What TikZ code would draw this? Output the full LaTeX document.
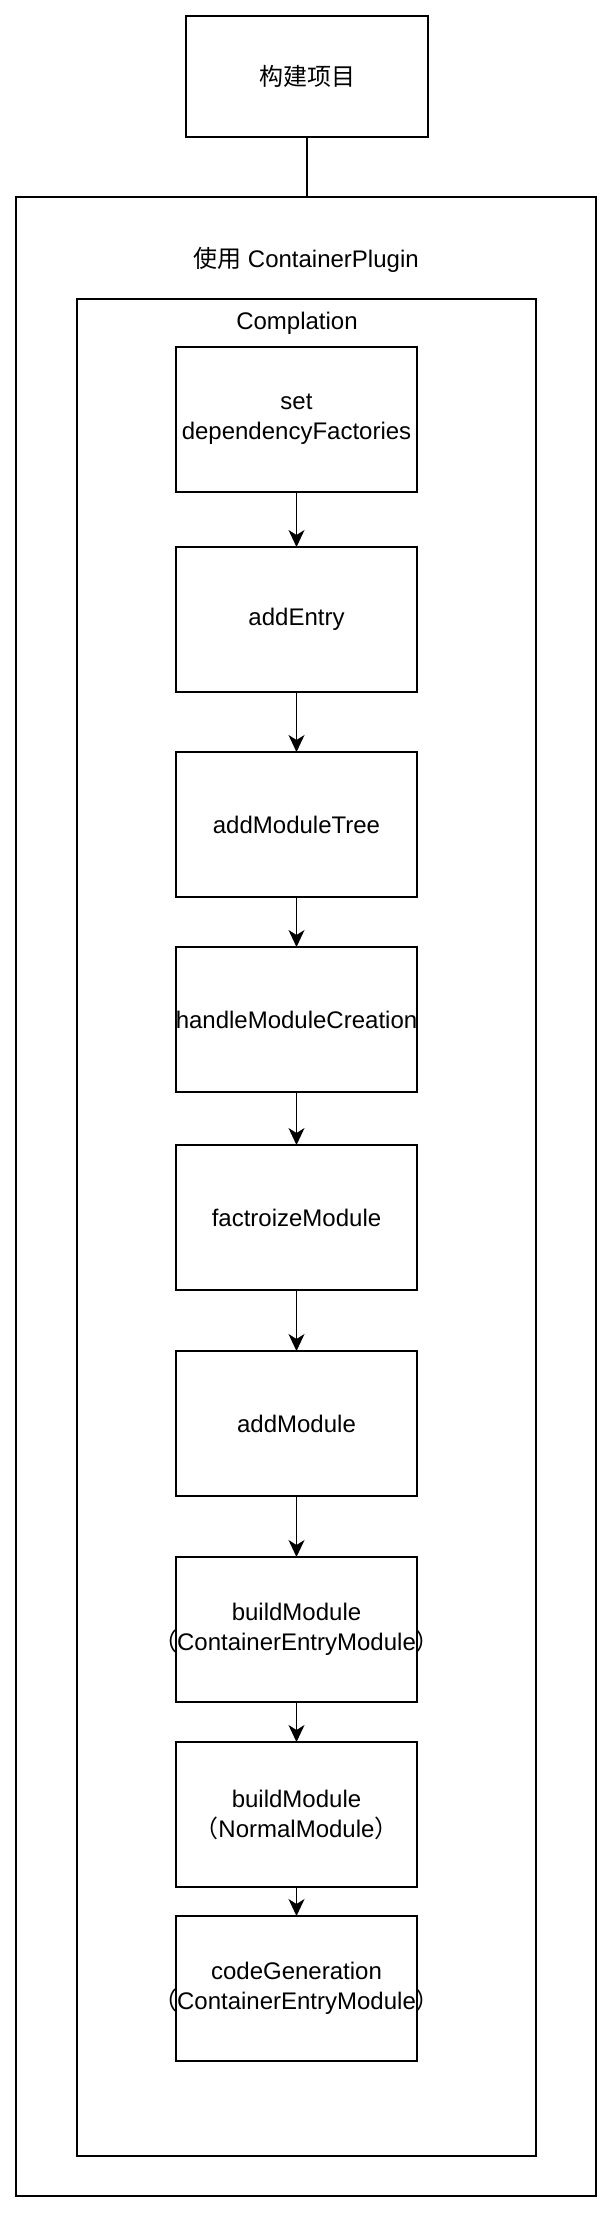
\documentclass[tikz,border=0pt]{standalone}
\usepackage{fontspec}
\setmainfont{Liberation Sans}
\newfontfamily\cjk{Noto Sans CJK SC}
\usetikzlibrary{
        positioning,
        arrows.meta
    }

\begin{document}
\begin{tikzpicture}
[x=1pt, y=-1pt,
baseshape/.style={draw=black, line width=1.5pt, rectangle, outer sep=0pt, font=\fontsize{24pt}{30pt}\selectfont},
startbox/.style={baseshape, minimum width=242pt, minimum height=121pt},
frame/.style={baseshape, inner sep=0pt},
process/.style={baseshape, inner sep=0pt, text width=241pt, align=center, minimum height=145pt},
title/.style={font=\fontsize{24pt}{30pt}\selectfont},
arrow/.style={line width=1.5pt, -{Stealth[length=17pt, width=16pt, inset=5pt]}},
]
\useasboundingbox (0,0) rectangle (614,2214);

\node (start) [startbox] at (307, 76.5) {{\cjk 构建项目}};
\node (outer) [frame, minimum width=580pt, minimum height=1999pt] at (306, 1196.5) {};
\node (inner) [frame, minimum width=459pt, minimum height=1857pt] at (306.5, 1227.5) {};
\node (plugin) [title] at (306, 260) {{\cjk 使用} ContainerPlugin};
\node (compl) [title] at (297, 323) {Complation};

\node (step1) [process] at (296.5, 419.5) {set\\dependencyFactories};
\node (step2) [process, below=55pt of step1] {addEntry};
\node (step3) [process, below=60pt of step2] {addModuleTree};
\node (step4) [process, below=50pt of step3] {\makebox[0pt]{handleModuleCreation}};
\node (step5) [process, below=53pt of step4] {factroizeModule};
\node (step6) [process, below=61pt of step5] {addModule};
\node (step7) [process, below=61pt of step6] {buildModule\\\makebox[0pt]{{\cjk （}ContainerEntryModule{\cjk ）}}};
\node (step8) [process, below=40pt of step7] {buildModule\\{\cjk （}NormalModule{\cjk ）}};
\node (step9) [process, below=29pt of step8] {codeGeneration\\\makebox[0pt]{{\cjk （}ContainerEntryModule{\cjk ）}}};

\draw [line width=1.5pt] (start.south) -- (start.south |- outer.north);
\draw [arrow] (step1) -- (step2);
\draw [arrow] (step2) -- (step3);
\draw [arrow] (step3) -- (step4);
\draw [arrow] (step4) -- (step5);
\draw [arrow] (step5) -- (step6);
\draw [arrow] (step6) -- (step7);
\draw [arrow] (step7) -- (step8);
\draw [arrow] (step8) -- (step9);

\end{tikzpicture}
\end{document}
